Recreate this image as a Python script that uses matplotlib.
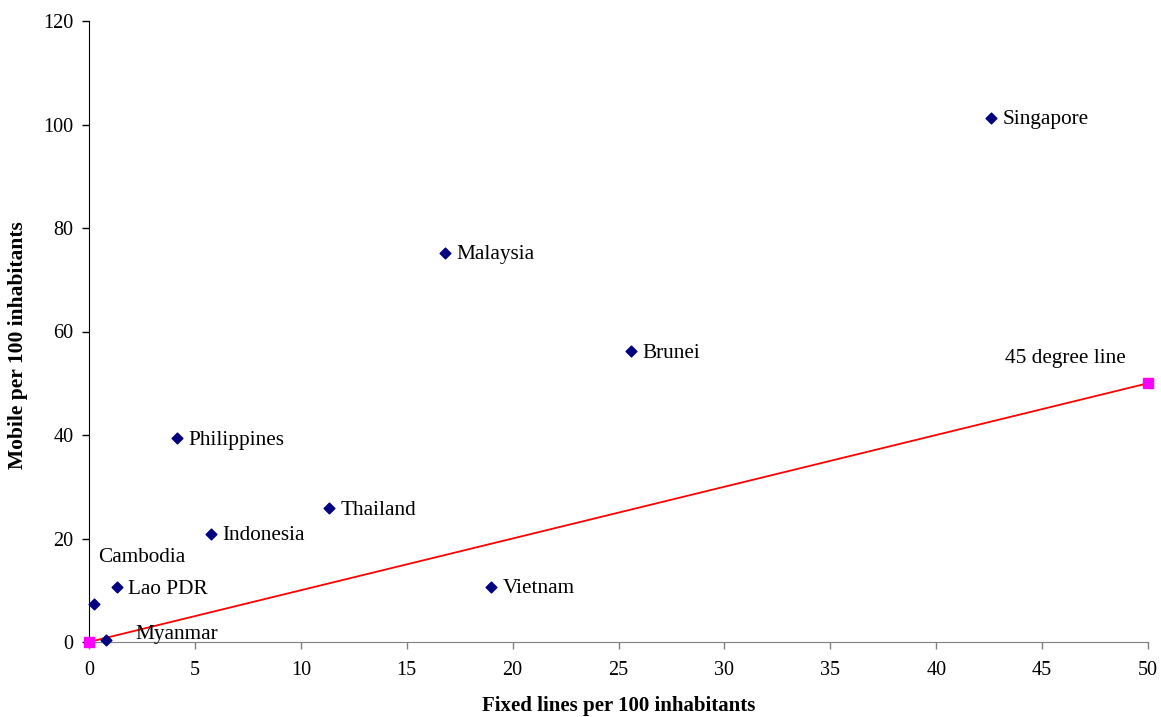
import matplotlib
matplotlib.use("Agg")
import matplotlib.pyplot as plt

countries = ["Singapore", "Malaysia", "Brunei", "Philippines", "Thailand",
             "Indonesia", "Vietnam", "Lao PDR", "Cambodia", "Myanmar"]
fixed = [42.6, 16.8, 25.6, 4.15, 11.35, 5.75, 19.0, 1.3, 0.25, 0.8]
mobile = [101.3, 75.2, 56.2, 39.4, 25.9, 20.9, 10.7, 10.6, 7.4, 0.4]
line_x = [0, 50]
line_y = [0, 50]
x_ticks = list(range(0, 51, 5))
y_ticks = list(range(0, 121, 20))

plt.rcParams['font.family'] = ['Liberation Serif', 'DejaVu Serif']

fig = plt.figure(figsize=(11.61, 7.17), dpi=100)
ax = fig.add_axes([89/1161, 1-642/717, (1148-89)/1161, (642-21)/717])

ax.plot(line_x, line_y, color='red', lw=1.3, marker='s', markersize=7,
        markerfacecolor='#FF00FF', markeredgecolor='#FF00FF', zorder=3, clip_on=False)
ax.scatter(fixed, mobile, marker='D', s=30, color='#000080', zorder=4, clip_on=False)

fs = 15.3
for c, x, y in zip(countries, fixed, mobile):
    if c == "Cambodia":
        ax.annotate(c, (x, y), xytext=(3, 33), textcoords='offset points',
                    fontsize=fs, va='center', ha='left')
    elif c == "Myanmar":
        ax.annotate(c, (x, y), xytext=(21, 4), textcoords='offset points',
                    fontsize=fs, va='center', ha='left')
    else:
        ax.annotate(c, (x, y), xytext=(8, -1.5), textcoords='offset points',
                    fontsize=fs, va='center', ha='left')
ax.annotate("45 degree line", (line_x[1], line_y[1]), xytext=(-103, 18),
            textcoords='offset points', fontsize=fs, va='center', ha='left')

ax.set_xlim(0, 50)
ax.set_ylim(0, 120)
ax.set_xticks(x_ticks)
ax.set_yticks(y_ticks)
ax.tick_params(labelsize=14.5, direction='out', length=5, width=1, pad=6)
ax.tick_params(axis='x', colors='#808080', labelcolor='black', pad=9)
ax.spines['top'].set_visible(False)
ax.spines['right'].set_visible(False)
ax.spines['bottom'].set_color('#808080')
ax.spines['left'].set_color('black')

ax.set_xlabel("Fixed lines per 100 inhabitants", fontsize=15, fontweight='bold', labelpad=11)
ax.set_ylabel("Mobile per 100 inhabitants", fontsize=15.5, fontweight='bold')
ax.yaxis.set_label_coords(-61/1059, 0.478)

fig.savefig("out.png", dpi=100)
